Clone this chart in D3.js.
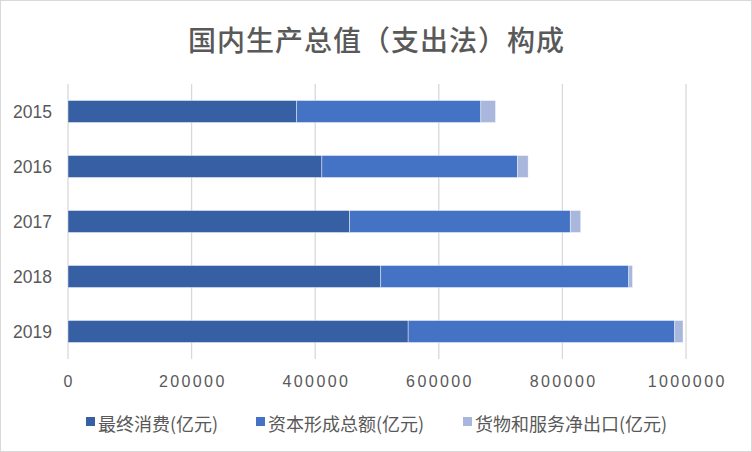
<!DOCTYPE html>
<html><head><meta charset="utf-8">
<script src="https://cdn.jsdelivr.net/npm/d3@7"></script>
<style>html,body{margin:0;padding:0;background:#fff;}svg{display:block;}</style>
</head><body>
<svg id="c" width="752" height="452"></svg>
<script>
const years = ["2015","2016","2017","2018","2019"];
const consumption = [369800, 410800, 455700, 506100, 550400];
const capital = [298200, 316700, 357000, 401300, 431400];
const netExport = [23800, 17100, 17000, 6100, 13400];
const xTicks = [0, 200000, 400000, 600000, 800000, 1000000];
const seriesNames = ["最终消费(亿元)", "资本形成总额(亿元)", "货物和服务净出口(亿元)"];
const colors = ["#375FA3", "#4472C4", "#A9B7DC"];
const title = "国内生产总值（支出法）构成";

const svg = d3.select("#c");
svg.append("rect").attr("x",0.5).attr("y",0.5).attr("width",751).attr("height",451)
  .attr("fill","#fff").attr("stroke","#d9d9d9").attr("stroke-width",1);

const x = d3.scaleLinear().domain([0,1000000]).range([68,686]);
const y = d3.scaleBand().domain(years).range([84,359]).paddingInner(0.6).paddingOuter(0.3);

// gridlines
svg.append("g").selectAll("line").data(xTicks).join("line")
  .attr("x1",d=>x(d)).attr("x2",d=>x(d)).attr("y1",84).attr("y2",359)
  .attr("stroke","#d9d9d9").attr("stroke-width",1.3);

const table = years.map((yr,i)=>({year:yr, s0:consumption[i], s1:capital[i], s2:netExport[i]}));
const stack = d3.stack().keys(["s0","s1","s2"])(table);

svg.append("g").selectAll("g").data(stack).join("g")
  .attr("fill",(d,i)=>colors[i])
  .selectAll("rect").data(d=>d).join("rect")
  .attr("x",d=>x(d[0])).attr("width",d=>x(d[1])-x(d[0]))
  .attr("y",d=>y(d.data.year)).attr("height",y.bandwidth())
  .attr("stroke","#ffffff").attr("stroke-width",0.6).attr("stroke-opacity",0.7);

// y axis labels
svg.append("g").selectAll("text").data(years).join("text")
  .attr("x",52).attr("y",d=>y(d)+y.bandwidth()/2)
  .attr("text-anchor","end").attr("dominant-baseline","central")
  .attr("font-family","'Liberation Sans', Arial, sans-serif").attr("font-size",17.5)
  .attr("fill","#595959").text(d=>d);

// x axis labels
svg.append("g").selectAll("text").data(xTicks).join("text")
  .attr("x",d=>x(d)+1.2).attr("y",381)
  .attr("text-anchor","middle").attr("dominant-baseline","central")
  .attr("font-family","'Liberation Sans', Arial, sans-serif").attr("font-size",16)
  .attr("letter-spacing","2.4px")
  .attr("fill","#595959").text(d=>d);

// title
svg.append("text").attr("x",376.5).attr("y",39)
  .attr("text-anchor","middle").attr("dominant-baseline","central")
  .attr("font-family","'Noto Sans CJK SC', sans-serif").attr("font-size",28)
  .attr("font-weight",500)
  .attr("letter-spacing","1px")
  .attr("fill","#595959").text(title);

// legend
const legX = [86, 256, 463];
const leg = svg.append("g").selectAll("g").data(seriesNames).join("g")
  .attr("transform",(d,i)=>`translate(${legX[i]},0)`);
leg.append("rect").attr("x",0).attr("y",417).attr("width",9).attr("height",9)
  .attr("fill",(d,i)=>colors[i]);
leg.append("text").attr("x",12).attr("y",422.5).attr("dominant-baseline","central")
  .attr("font-family","'Noto Sans CJK SC', sans-serif").attr("font-size",18)
  .attr("fill","#595959").text(d=>d);
</script>
</body></html>
